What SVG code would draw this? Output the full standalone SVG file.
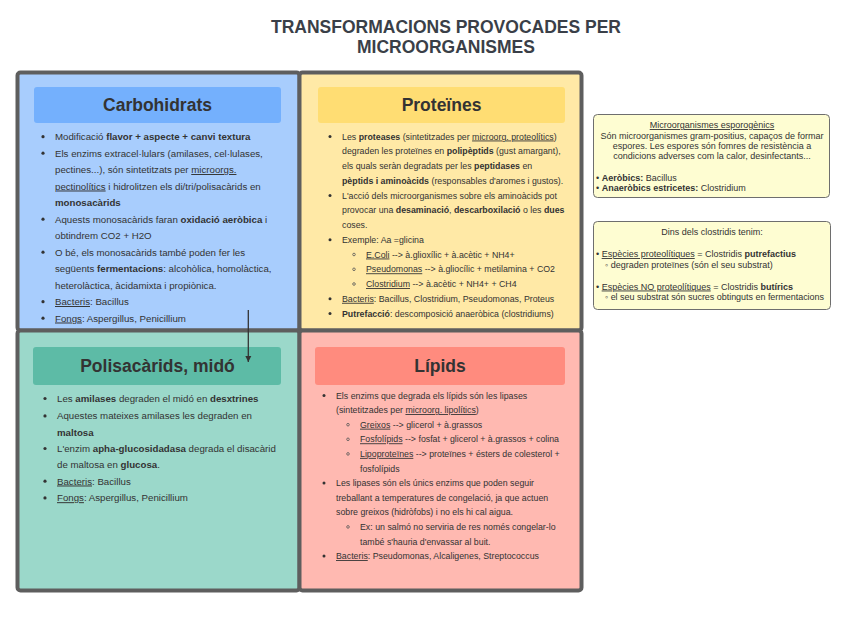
<svg xmlns="http://www.w3.org/2000/svg" width="848" height="633" viewBox="0 0 848 633">
<defs>
<style>
text{font-family:"Liberation Sans",Arial,sans-serif;fill:#333333}
.t{font-size:9.7px}
.p{font-size:8.8px}
.s{font-size:9px}
.h{font-size:17.5px;font-weight:bold;text-anchor:middle}
.title{font-size:17.5px;font-weight:bold;text-anchor:middle;fill:#3a3f48}
.b{font-weight:bold}
.u{text-decoration:underline}
.quad{stroke:#5e5e5e;stroke-width:4}
.hdr{stroke:none}
.dot{fill:#333333}
.odot{fill:none;stroke:#555555;stroke-width:0.8}
.note{fill:#fefdd2;stroke:#6e6e6e;stroke-width:1}
.c{text-anchor:middle}
</style>
<marker id="ah" viewBox="0 0 10 10" refX="10" refY="5" markerWidth="6" markerHeight="10" markerUnits="userSpaceOnUse" orient="auto">
<path d="M0,0 L10,5 L0,10 z" fill="#333333"/>
</marker>
</defs>
<rect width="848" height="633" fill="#ffffff"/>

<g id="title">
<text class="title" x="446" y="33">TRANSFORMACIONS PROVOCADES PER</text>
<text class="title" x="446" y="53">MICROORGANISMES</text>
</g>

<g id="carbohidrats">
<rect class="quad" x="17.5" y="72.5" width="282" height="258" rx="3" fill="#a8cdfd"/>
<rect class="hdr" x="34" y="87" width="247" height="36" rx="3" fill="#74b0fd"/>
<text class="h" x="157.5" y="111">Carbohidrats</text>
<g class="dot"><circle cx="43" cy="136.7" r="1.6"/><circle cx="43" cy="153.2" r="1.6"/><circle cx="43" cy="219.2" r="1.6"/><circle cx="43" cy="252.2" r="1.6"/><circle cx="43" cy="301.7" r="1.6"/><circle cx="43" cy="318.2" r="1.6"/></g>
<text class="t" x="55" y="140">Modificació <tspan class="b">flavor + aspecte + canvi textura</tspan></text>
<text class="t" x="55" y="156.5">Els enzims extracel·lulars (amilases, cel·lulases,</text>
<text class="t" x="55" y="173">pectines...), són sintetitzats per <tspan class="u">microorgs.</tspan></text>
<text class="t" x="55" y="189.5"><tspan class="u">pectinolítics</tspan> i hidrolitzen els di/tri/polisacàrids en</text>
<text class="t b" x="55" y="206">monosacàrids</text>
<text class="t" x="55" y="222.5">Aquests monosacàrids faran <tspan class="b">oxidació aeròbica</tspan> i</text>
<text class="t" x="55" y="239">obtindrem CO2 + H2O</text>
<text class="t" x="55" y="255.5">O bé, els monosacàrids també poden fer les</text>
<text class="t" x="55" y="272">següents <tspan class="b">fermentacions</tspan>: alcohòlica, homolàctica,</text>
<text class="t" x="55" y="288.5">heterolàctica, àcidamixta i propiònica.</text>
<text class="t" x="55" y="305"><tspan class="u">Bacteris</tspan>: Bacillus</text>
<text class="t" x="55" y="321.5"><tspan class="u">Fongs</tspan>: Aspergillus, Penicillium</text>
</g>

<g id="proteines">
<rect class="quad" x="299.5" y="72.5" width="282" height="258" rx="3" fill="#ffe9a6"/>
<rect class="hdr" x="318" y="87" width="247" height="36" rx="3" fill="#ffdd73"/>
<text class="h" x="441.5" y="111">Proteïnes</text>
<g class="dot"><circle cx="330" cy="136.5" r="1.5"/><circle cx="330" cy="195.5" r="1.5"/><circle cx="330" cy="239.8" r="1.5"/><circle cx="330" cy="298.8" r="1.5"/><circle cx="330" cy="313.5" r="1.5"/></g>
<g class="odot"><circle cx="354" cy="254.5" r="1.3"/><circle cx="354" cy="269.3" r="1.3"/><circle cx="354" cy="284" r="1.3"/></g>
<text class="p" x="342" y="139.5">Les <tspan class="b">proteases</tspan> (sintetitzades per <tspan class="u">microorg. proteolítics</tspan>)</text>
<text class="p" x="342" y="154.3">degraden les proteïnes en <tspan class="b">polipèptids</tspan> (gust amargant),</text>
<text class="p" x="342" y="169">els quals seràn degradats per les <tspan class="b">peptidases</tspan> en</text>
<text class="p" x="342" y="183.8"><tspan class="b">pèptids i aminoàcids</tspan> (responsables d'aromes i gustos).</text>
<text class="p" x="342" y="198.5">L'acció dels microorganismes sobre els aminoàcids pot</text>
<text class="p" x="342" y="213.3">provocar una <tspan class="b">desaminació</tspan>, <tspan class="b">descarboxilació</tspan> o les <tspan class="b">dues</tspan></text>
<text class="p" x="342" y="228">coses.</text>
<text class="p" x="342" y="242.8">Exemple: Aa =glicina</text>
<text class="p" x="366" y="257.5"><tspan class="u">E.Coli</tspan> --&gt; à.glioxílic + à.acètic + NH4+</text>
<text class="p" x="366" y="272.3"><tspan class="u">Pseudomonas</tspan> --&gt; à.gliocílic + metilamina + CO2</text>
<text class="p" x="366" y="287"><tspan class="u">Clostridium</tspan> --&gt; à.acètic + NH4+ + CH4</text>
<text class="p" x="342" y="301.8"><tspan class="u">Bacteris</tspan>: Bacillus, Clostridium, Pseudomonas, Proteus</text>
<text class="p" x="342" y="316.5"><tspan class="b">Putrefacció</tspan>: descomposició anaeròbica (clostridiums)</text>
</g>

<g id="polisacarids">
<rect class="quad" x="17.5" y="330.5" width="282" height="260" rx="3" fill="#9bd8ca"/>
<rect class="hdr" x="33" y="347" width="248" height="38" rx="3" fill="#5dbba6"/>
<text class="h" x="157.5" y="372">Polisacàrids, midó</text>
<g class="dot"><circle cx="45" cy="398.5" r="1.6"/><circle cx="45" cy="415.9" r="1.6"/><circle cx="45" cy="448.5" r="1.6"/><circle cx="45" cy="481.2" r="1.6"/><circle cx="45" cy="497.9" r="1.6"/></g>
<text class="t" x="57" y="401.8">Les <tspan class="b">amilases</tspan> degraden el midó en <tspan class="b">desxtrines</tspan></text>
<text class="t" x="57" y="419.2">Aquestes mateixes amilases les degraden en</text>
<text class="t b" x="57" y="435.5">maltosa</text>
<text class="t" x="57" y="451.8">L'enzim <tspan class="b">apha-glucosidadasa</tspan> degrada el disacàrid</text>
<text class="t" x="57" y="468.2">de maltosa en <tspan class="b">glucosa</tspan>.</text>
<text class="t" x="57" y="484.5"><tspan class="u">Bacteris</tspan>: Bacillus</text>
<text class="t" x="57" y="501.2"><tspan class="u">Fongs</tspan>: Aspergillus, Penicillium</text>
</g>

<g id="lipids">
<rect class="quad" x="299.5" y="330.5" width="282" height="260" rx="3" fill="#ffb9b1"/>
<rect class="hdr" x="315" y="347" width="250" height="38" rx="3" fill="#ff8b7e"/>
<text class="h" x="440" y="372">Lípids</text>
<g class="dot"><circle cx="324" cy="395.5" r="1.5"/><circle cx="324" cy="483.1" r="1.5"/><circle cx="324" cy="556.1" r="1.5"/></g>
<g class="odot"><circle cx="348" cy="424.7" r="1.3"/><circle cx="348" cy="439.3" r="1.3"/><circle cx="348" cy="453.9" r="1.3"/><circle cx="348" cy="526.9" r="1.3"/></g>
<text class="p" x="336" y="398.5">Els enzims que degrada els lípids són les lipases</text>
<text class="p" x="336" y="413.1">(sintetitzades per <tspan class="u">microorg. lipolítics</tspan>)</text>
<text class="p" x="360" y="427.7"><tspan class="u">Greixos</tspan> --&gt; glicerol + à.grassos</text>
<text class="p" x="360" y="442.3"><tspan class="u">Fosfolípids</tspan> --&gt; fosfat + glicerol + à.grassos + colina</text>
<text class="p" x="360" y="456.9"><tspan class="u">Lipoproteïnes</tspan> --&gt; proteïnes + ésters de colesterol +</text>
<text class="p" x="360" y="471.5">fosfolípids</text>
<text class="p" x="336" y="486.1">Les lipases són els únics enzims que poden seguir</text>
<text class="p" x="336" y="500.7">treballant a temperatures de congelació, ja que actuen</text>
<text class="p" x="336" y="515.3">sobre greixos (hidròfobs) i no els hi cal aigua.</text>
<text class="p" x="360" y="529.9">Ex: un salmó no serviria de res només congelar-lo</text>
<text class="p" x="360" y="544.5">també s'hauria d'envassar al buit.</text>
<text class="p" x="336" y="559.1"><tspan class="u">Bacteris</tspan>: Pseudomonas, Alcaligenes, Streptococcus</text>
</g>

<g id="esporogenics">
<rect class="note" x="593.5" y="114.5" width="236" height="83" rx="4"/>
<text class="s c" x="712" y="128"><tspan class="u">Microorganismes esporogènics</tspan></text>
<text class="s c" x="712" y="138.5">Són microorganismes gram-positius, capaços de formar</text>
<text class="s c" x="712" y="148.5">espores. Les espores són fomres de resistència a</text>
<text class="s c" x="712" y="158.5">condicions adverses com la calor, desinfectants...</text>
<text class="s" x="596" y="181">• <tspan class="b">Aeròbics:</tspan> Bacillus</text>
<text class="s" x="596" y="191">• <tspan class="b">Anaeròbics estricetes:</tspan> Clostridium</text>
</g>

<g id="clostridis">
<rect class="note" x="593.5" y="221.5" width="237" height="88" rx="4"/>
<text class="s c" x="712" y="235">Dins dels clostridis tenim:</text>
<text class="s" x="596" y="257"><tspan>• </tspan><tspan class="u">Espècies proteolítiques</tspan> = Clostridis <tspan class="b">putrefactius</tspan></text>
<text class="s" x="605" y="268">◦ degraden proteïnes (són el seu substrat)</text>
<text class="s" x="596" y="289.5"><tspan>• </tspan><tspan class="u">Espècies NO proteolítiques</tspan> = Clostridis <tspan class="b">butírics</tspan></text>
<text class="s" x="605" y="300" textLength="219">◦ el seu substrat són sucres obtinguts en fermentacions</text>
</g>

<g id="connectors">
<line x1="248.3" y1="310" x2="248.3" y2="362" stroke="#333333" stroke-width="1.3" marker-end="url(#ah)"/>
</g>
</svg>
